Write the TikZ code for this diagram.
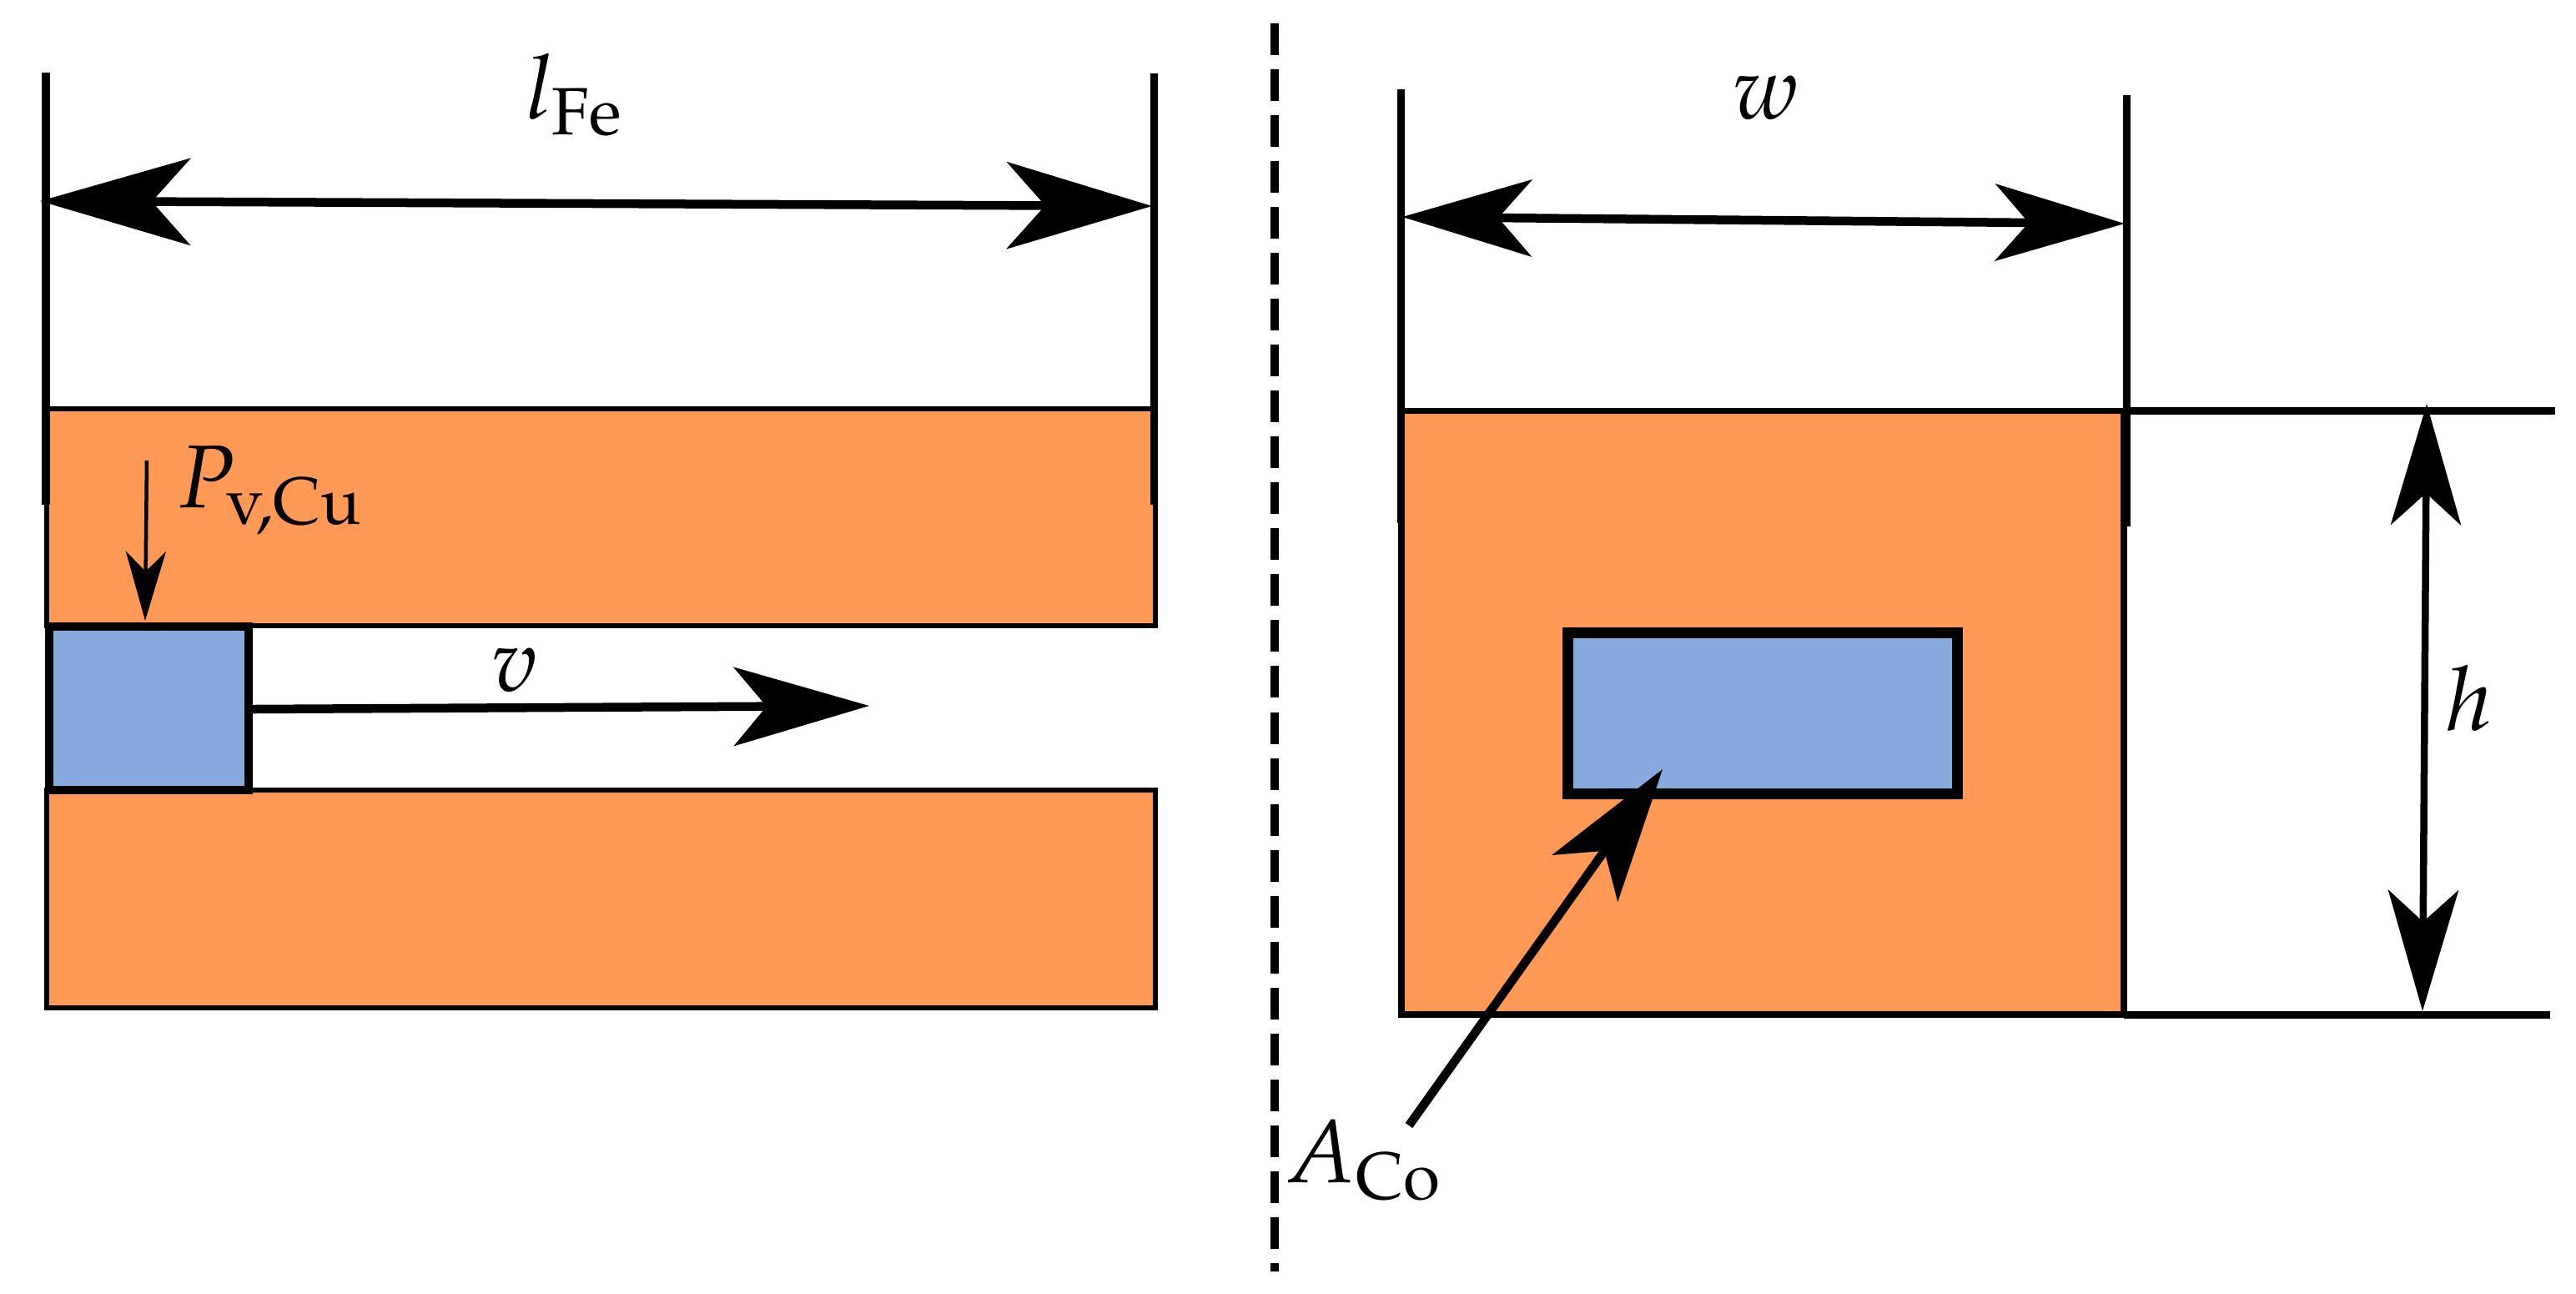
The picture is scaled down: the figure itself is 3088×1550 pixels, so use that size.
\documentclass[tikz,border=0pt]{standalone}
\usepackage{mathpazo}
\usetikzlibrary{arrows.meta}
\DeclareMathSizes{30.4}{30.4}{22.8}{17}
\definecolor{coreorange}{HTML}{FF9955}
\definecolor{coilblue}{HTML}{87AADE}
\tikzset{
  corebox/.style={draw=black,fill=coreorange,line width=0.06cm},
  coilbox/.style={draw=black,fill=coilblue},
  extline/.style={draw=black,line width=0.09cm},
  bigtipL/.tip={Stealth[length=1.80cm,width=1.04cm,inset=0.46cm]},
  bigtipR/.tip={Stealth[length=1.74cm,width=1.04cm,inset=0.46cm]},
  veltip/.tip={Stealth[length=1.62cm,width=0.94cm,inset=0.39cm]},
  midtip/.tip={Stealth[length=1.55cm,width=0.92cm,inset=0.40cm]},
  tiptall/.tip={Stealth[length=1.45cm,width=0.84cm,inset=0.38cm]},
  smalltip/.tip={Stealth[length=0.83cm,width=0.48cm,inset=0.24cm]},
  dim/.style={draw=black,line width=0.105cm},
  lbl/.style={anchor=base west,inner sep=0pt,outer sep=0pt,font=\fontsize{30.4}{36}\selectfont}
}
\begin{document}
\begin{tikzpicture}[x=0.01cm,y=-0.01cm]
\useasboundingbox (0,0) rectangle (3088,1550);
% cores
\path[corebox] (56,490) rectangle (1385,750);
\path[corebox] (56,947) rectangle (1385,1208);
\path[corebox,line width=0.075cm] (1680,492.5) rectangle (2546,1216);
% extension lines
\coordinate (la) at (55,87);   \coordinate (lb) at (55,605);
\coordinate (ra) at (1383,88); \coordinate (rb) at (1383,605);
\draw[extline] (la) -- (lb);
\draw[extline] (ra) -- (rb);
\coordinate (wla) at (1679,107); \coordinate (wlb) at (1679,627);
\coordinate (wra) at (2549,114); \coordinate (wrb) at (2549,631);
\draw[extline] (wla) -- (wlb);
\draw[extline] (wra) -- (wrb);
\coordinate (hta) at (2549,492.5); \coordinate (htb) at (3063,492.5);
\coordinate (hba) at (2546,1216);  \coordinate (hbb) at (3057,1216);
\draw[extline] (hta) -- (htb);
\draw[extline] (hba) -- (hbb);
% coils
\path[coilbox,line width=0.095cm] (59,751) rectangle (298,947);
\path[coilbox,line width=0.13cm] (1879.5,758.5) rectangle (2346.5,951.5);
% centre dashed line
\coordinate (da) at (1528,28); \coordinate (db) at (1528,1524);
\draw[line width=0.10cm,dash pattern=on 0.38cm off 0.17cm] (da) -- (db);
% dimension arrows
\coordinate (lfa) at (48,241);  \coordinate (lfb) at (1381,247);
\draw[dim,{bigtipL}-{bigtipR}] (lfa) -- (lfb);
\coordinate (wa) at (1681,260); \coordinate (wb) at (2547,268);
\draw[dim,{midtip}-{midtip}] (wa) -- (wb);
\coordinate (ha) at (2909,484); \coordinate (hb) at (2904,1212);
\draw[dim,line width=0.085cm,{tiptall}-{tiptall}] (ha) -- (hb);
\coordinate (va) at (302,850);  \coordinate (vb) at (1042,846);
\draw[dim,-{veltip}] (va) -- (vb);
\coordinate (pa) at (176,552);  \coordinate (pb) at (174,744);
\draw[dim,line width=0.045cm,-{smalltip}] (pa) -- (pb);
\coordinate (aa) at (1689,1349); \coordinate (ab) at (1993,922);
\draw[dim,-{Stealth[length=1.60cm,width=0.96cm,inset=0.40cm]}] (aa) -- (ab);
% labels
\node[lbl] (lfe) at (630,142) {$l_{\mathrm{Fe}}$};
\node[lbl] (pvcu) at (212,608) {$P_{\mathrm{v,Cu}}$};
\node[lbl] (vel) at (589,828) {$v$};
\node[lbl] (wid) at (2077,142) {$w$};
\node[lbl] (hei) at (2932,875) {$h$};
\node[lbl] (aco) at (1540,1417) {$A_{\mathrm{Co}}$};
\end{tikzpicture}
\end{document}
